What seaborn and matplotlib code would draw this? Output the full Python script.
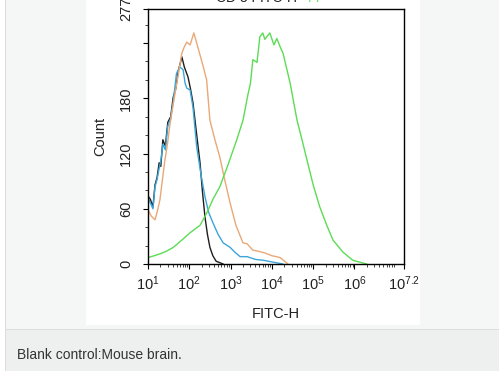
import numpy as np
import pandas as pd
import matplotlib
matplotlib.use("Agg")
import matplotlib.pyplot as plt
import seaborn as sns
from matplotlib.patches import Rectangle
from matplotlib.ticker import FixedLocator, NullFormatter, LogLocator

# ---- data (x in log10 FITC-H, y in counts) ---- #
black_lx = [1.00, 1.06, 1.12, 1.17, 1.22, 1.27, 1.31, 1.36, 1.42, 1.48, 1.55, 1.61, 1.67,
            1.73, 1.78, 1.82, 1.88, 1.97, 2.03, 2.09, 2.18, 2.26, 2.32, 2.38, 2.44, 2.50,
            2.57, 2.65, 2.82]
black_cnt = [74, 70, 62, 86, 94, 110, 106, 135, 128, 154, 160, 181, 190,
             209, 218, 225, 214, 203, 190, 175, 140, 110, 78, 51, 32, 18,
             9, 3, 0]

cyan_lx = [1.00, 1.06, 1.12, 1.17, 1.22, 1.27, 1.31, 1.36, 1.42, 1.48, 1.55, 1.61, 1.69,
           1.77, 1.85, 1.90, 1.94, 2.02, 2.09, 2.18, 2.28, 2.38, 2.47, 2.57, 2.70, 2.82,
           2.99, 3.10, 3.23, 3.40, 3.60, 3.80, 4.03, 4.27]
cyan_cnt = [72, 66, 60, 84, 92, 104, 112, 130, 124, 150, 158, 176, 207,
            214, 211, 196, 191, 189, 170, 127, 98, 73, 56, 45, 32, 23,
            18, 13, 8, 8, 5, 4, 2, 0]

orange_lx = [1.00, 1.08, 1.17, 1.23, 1.29, 1.35, 1.41, 1.47, 1.53, 1.59, 1.65, 1.73, 1.82,
             1.88, 1.94, 2.02, 2.11, 2.18, 2.26, 2.34, 2.42, 2.50, 2.62, 2.74, 2.86, 2.99,
             3.13, 3.30, 3.40, 3.54, 3.66, 3.83, 4.00, 4.20, 4.39]
orange_cnt = [59, 52, 48, 58, 70, 92, 113, 130, 151, 168, 184, 205, 229,
              236, 241, 238, 251, 240, 227, 214, 200, 156, 135, 116, 91, 66,
              42, 23, 22, 15, 14, 12, 9, 7, 0]

green_lx = [1.00, 1.15, 1.29, 1.45, 1.61, 1.82, 1.92, 2.02, 2.14, 2.26, 2.43, 2.57, 2.74,
            2.94, 3.15, 3.30, 3.42, 3.48, 3.54, 3.64, 3.71, 3.78, 3.83, 3.88, 3.95, 4.05,
            4.12, 4.20, 4.27, 4.44, 4.61, 4.73, 4.85, 5.00, 5.16, 5.33, 5.48, 5.72, 5.96,
            6.13, 6.30]
green_cnt = [7, 9, 11, 14, 18, 26, 30, 34, 38, 42, 56, 70, 84,
             108, 135, 156, 184, 196, 222, 219, 247, 251, 244, 247, 251, 238,
             245, 236, 229, 197, 156, 135, 113, 86, 62, 42, 26, 13, 4,
             2, 0]

y_ticks = [0, 60, 120, 180, 240, 277]
y_labels = ["0", "60", "120", "180", "", "277"]
x_ticks = [1, 2, 3, 4, 5, 6, 7.2]
x_labels = [r"$10^{1}$", r"$10^{2}$", r"$10^{3}$", r"$10^{4}$", r"$10^{5}$", r"$10^{6}$", r"$10^{7.2}$"]

series = [
    ("black", black_lx, black_cnt, "#1e1e1e"),
    ("cyan", cyan_lx, cyan_cnt, "#3aa6d8"),
    ("orange", orange_lx, orange_cnt, "#eaa877"),
    ("green", green_lx, green_cnt, "#5cdc55"),
]

sns.set_style("white")
plt.rcParams["font.family"] = ["Liberation Sans", "DejaVu Sans"]
plt.rcParams["mathtext.fontset"] = "custom"
plt.rcParams["mathtext.rm"] = "Liberation Sans"
plt.rcParams["mathtext.it"] = "Liberation Sans"

fig = plt.figure(figsize=(4.99, 3.71), dpi=100)
fig.patch.set_facecolor("white")

W, H = 499.0, 371.0
def box(x0, y0, x1, y1, color):
    # pixel box (top-left origin) -> figure rectangle
    fig.patches.append(Rectangle((x0 / W, 1 - y1 / H), (x1 - x0) / W, (y1 - y0) / H,
                                 transform=fig.transFigure, facecolor=color,
                                 edgecolor="none", zorder=-10))

box(5, 0, 499, 329, "#f5f6f6")
box(5, 329, 499, 330, "#dcdddd")
box(5, 330, 499, 371, "#eeefef")
box(4.5, 0, 5.5, 371, "#dcdddd")
box(86, 0, 420, 325, "white")

ax = fig.add_axes([148 / W, 1 - 264 / H, (404 - 148) / W, (264 - 9) / H])
ax.set_facecolor("white")

for name, lx, cnt, col in series:
    df = pd.DataFrame({"fitc": 10 ** np.array(lx), "count": cnt})
    sns.lineplot(data=df, x="fitc", y="count", color=col, lw=1.0, ax=ax,
                 sort=False, estimator=None)

ax.set_xscale("log")
ax.set_xlim(10 ** 1, 10 ** 7.2)
ax.set_ylim(0, 277)
ax.set_xticks([10 ** t for t in x_ticks])
ax.set_xticklabels(x_labels, fontsize=10.5)
ax.xaxis.set_minor_locator(LogLocator(base=10, subs=np.arange(2, 10), numticks=20))
ax.xaxis.set_minor_formatter(NullFormatter())
ax.set_yticks(y_ticks)
ax.set_yticklabels(y_labels, rotation=90, va="center", fontsize=10.5)
ax.yaxis.set_minor_locator(FixedLocator(np.arange(20, 277, 20)))

ax.tick_params(axis="both", which="major", direction="out", length=3.6, width=0.8,
               colors="black", labelcolor="#222222", bottom=True, left=True)
ax.tick_params(axis="both", which="minor", direction="out", length=2.2, width=0.6,
               bottom=True, left=True)
ax.tick_params(axis="x", which="major", pad=4)
ax.tick_params(axis="y", which="major", pad=7)

for s in ax.spines.values():
    s.set_color("black")
    s.set_linewidth(1.0)

ax.set_xlabel("FITC-H", fontsize=10.5, color="#222222", labelpad=10)
ax.set_ylabel("Count", fontsize=10.5, color="#222222", labelpad=9)

# title is cut off at the top of the image
fig.text(258 / W, 1 - 2 / H, "CD 3 FITC-H ", ha="center", va="baseline",
         fontsize=10, color="#222222")
fig.text(315 / W, 1 - 2 / H, "/ /", ha="center", va="baseline",
         fontsize=10, color="#5cdc55")

fig.text(17 / W, 1 - 355 / H, "Blank control:Mouse brain.", ha="left", va="center",
         fontsize=10, color="#333333")

fig.savefig("out.png", dpi=100, facecolor=fig.get_facecolor())
